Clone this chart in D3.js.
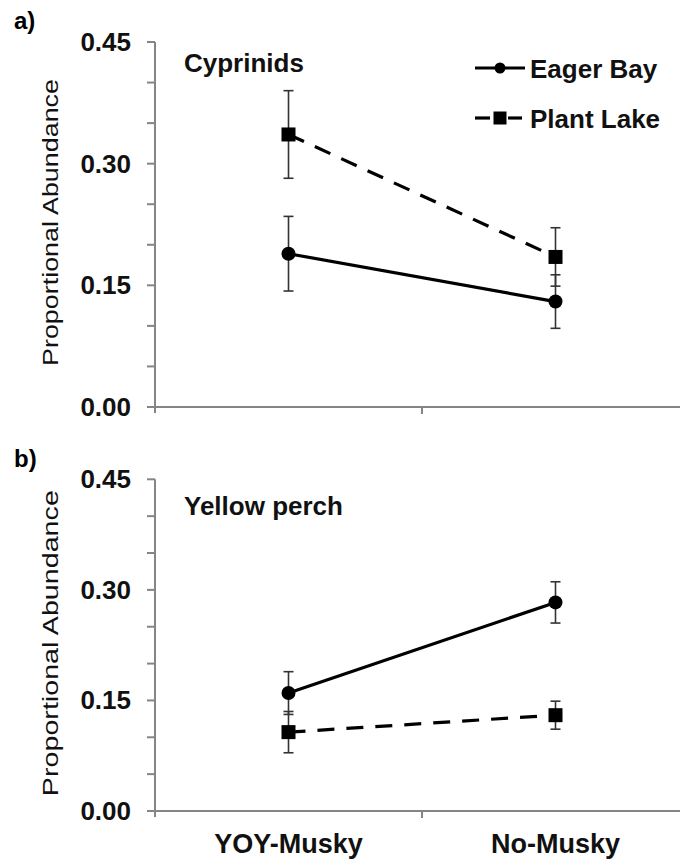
<!DOCTYPE html>
<html>
<head>
<meta charset="utf-8">
<script src="https://cdn.jsdelivr.net/npm/d3@7"></script>
<style>
  html, body { margin: 0; padding: 0; background: #fff; }
  svg { display: block; font-family: "Liberation Sans", Arial, sans-serif; }
</style>
</head>
<body>
<svg id="chart" width="680" height="862"></svg>
<script>
// Categories and series
const groups = ["YOY-Musky", "No-Musky"];
const seriesNames = ["Eager Bay", "Plant Lake"];

// Panel a) Cyprinids: means and error half-widths
const cyprEager = [0.189, 0.130];
const cyprEagerErr = [0.046, 0.033];
const cyprPlant = [0.336, 0.185];
const cyprPlantErr = [0.054, 0.036];

// Panel b) Yellow perch
const perchEager = [0.160, 0.283];
const perchEagerErr = [0.029, 0.028];
const perchPlant = [0.107, 0.130];
const perchPlantErr = [0.028, 0.019];

// Axis ticks
const yTickLabels = [0, 0.15, 0.30, 0.45];
const yMinorTicks = d3.range(0, 0.4501, 0.05);

const panels = [
  { tag: "a)", title: "Cyprinids", eager: cyprEager, eagerErr: cyprEagerErr,
    plant: cyprPlant, plantErr: cyprPlantErr,
    yRange: [407, 42], tagY: 29, titleY: 72, yTitleLen: 287, legend: true, xLabels: false },
  { tag: "b)", title: "Yellow perch", eager: perchEager, eagerErr: perchEagerErr,
    plant: perchPlant, plantErr: perchPlantErr,
    yRange: [811, 479.3], tagY: 467, titleY: 515, yTitleLen: 306, legend: false, xLabels: true }
];

const svg = d3.select("#chart");
const axisColor = "#858585";
const x = d3.scaleBand().domain(groups).range([155, 689]).padding(0);
const cx = d => x(d) + x.bandwidth() / 2;

const styles = {
  "Eager Bay": { dash: null, marker: "circle" },
  "Plant Lake": { dash: "17,12", marker: "square" }
};

panels.forEach(p => {
  const g = svg.append("g");
  const y = d3.scaleLinear().domain([0, 0.45]).range(p.yRange);

  // panel tag
  g.append("text").attr("x", 14).attr("y", p.tagY)
    .attr("font-size", 24).attr("font-weight", "bold").text(p.tag);

  // y axis: line + minor ticks
  g.append("line").attr("x1", 155).attr("x2", 155)
    .attr("y1", y(0.45)).attr("y2", y(0) + 6)
    .attr("stroke", axisColor).attr("stroke-width", 2);
  g.selectAll(".ytick").data(yMinorTicks).enter().append("line")
    .attr("x1", 147).attr("x2", 155)
    .attr("y1", d => y(d)).attr("y2", d => y(d))
    .attr("stroke", axisColor).attr("stroke-width", 2);
  g.selectAll(".ylab").data(yTickLabels).enter().append("text")
    .attr("x", 131).attr("y", d => y(d) + 9)
    .attr("text-anchor", "end").attr("font-size", 26).attr("font-weight", "bold")
    .attr("fill", "#111")
    .text(d => d3.format(".2f")(d));

  // y title
  g.append("text")
    .attr("transform", `translate(58,${(p.yRange[0] + p.yRange[1]) / 2 - 2}) rotate(-90)`)
    .attr("text-anchor", "middle").attr("font-size", 22)
    .attr("textLength", p.yTitleLen).attr("lengthAdjust", "spacingAndGlyphs")
    .attr("fill", "#111")
    .text("Proportional Abundance");

  // x axis: line + boundary ticks between categories
  g.append("line").attr("x1", 155).attr("x2", 689)
    .attr("y1", y(0)).attr("y2", y(0))
    .attr("stroke", axisColor).attr("stroke-width", 2);
  g.selectAll(".xtick").data(groups.slice(1)).enter().append("line")
    .attr("x1", d => x(d)).attr("x2", d => x(d))
    .attr("y1", y(0)).attr("y2", y(0) + 7)
    .attr("stroke", axisColor).attr("stroke-width", 2);

  if (p.xLabels) {
    g.selectAll(".xlab").data(groups).enter().append("text")
      .attr("x", d => cx(d)).attr("y", 853)
      .attr("text-anchor", "middle").attr("font-size", 27).attr("font-weight", "bold")
      .attr("fill", "#111")
      .text(d => d);
  }

  // panel title
  g.append("text").attr("x", 184).attr("y", p.titleY)
    .attr("font-size", 26).attr("font-weight", "bold").attr("fill", "#111")
    .text(p.title);

  const series = [
    { name: "Eager Bay", vals: p.eager, errs: p.eagerErr },
    { name: "Plant Lake", vals: p.plant, errs: p.plantErr }
  ];

  // error bars
  series.forEach(s => {
    const pts = groups.map((gr, i) => ({ gr, v: s.vals[i], e: s.errs[i] }));
    const eb = g.append("g");
    eb.selectAll("line.v").data(pts).enter().append("line")
      .attr("x1", d => cx(d.gr)).attr("x2", d => cx(d.gr))
      .attr("y1", d => y(d.v - d.e)).attr("y2", d => y(d.v + d.e))
      .attr("stroke", "#333").attr("stroke-width", 1.6);
    ["lo", "hi"].forEach(k => {
      eb.selectAll("line.c" + k).data(pts).enter().append("line")
        .attr("x1", d => cx(d.gr) - 5).attr("x2", d => cx(d.gr) + 5)
        .attr("y1", d => y(k === "lo" ? d.v - d.e : d.v + d.e))
        .attr("y2", d => y(k === "lo" ? d.v - d.e : d.v + d.e))
        .attr("stroke", "#333").attr("stroke-width", 1.6);
    });
  });

  // connecting lines
  const line = d3.line().x((d, i) => cx(groups[i])).y(d => y(d));
  series.forEach(s => {
    g.append("path").datum(s.vals).attr("d", line)
      .attr("fill", "none").attr("stroke", "#000").attr("stroke-width", 3.2)
      .attr("stroke-dasharray", styles[s.name].dash);
  });

  // markers
  series.forEach(s => {
    const pts = groups.map((gr, i) => ({ gr, v: s.vals[i] }));
    if (styles[s.name].marker === "circle") {
      g.selectAll(null).data(pts).enter().append("circle")
        .attr("cx", d => cx(d.gr)).attr("cy", d => y(d.v)).attr("r", 7)
        .attr("fill", "#000");
    } else {
      g.selectAll(null).data(pts).enter().append("rect")
        .attr("x", d => cx(d.gr) - 7).attr("y", d => y(d.v) - 7)
        .attr("width", 14).attr("height", 14).attr("fill", "#000");
    }
  });

  // legend
  if (p.legend) {
    const leg = g.append("g");
    const rows = [{ name: seriesNames[0], y: 68, ty: 78 }, { name: seriesNames[1], y: 118, ty: 128 }];
    rows.forEach(r => {
      if (styles[r.name].marker === "circle") {
        leg.append("line").attr("x1", 475).attr("x2", 525).attr("y1", r.y).attr("y2", r.y)
          .attr("stroke", "#000").attr("stroke-width", 3.2);
        leg.append("circle").attr("cx", 500).attr("cy", r.y).attr("r", 5.5).attr("fill", "#000");
      } else {
        leg.append("line").attr("x1", 475).attr("x2", 490).attr("y1", r.y).attr("y2", r.y)
          .attr("stroke", "#000").attr("stroke-width", 3.2);
        leg.append("line").attr("x1", 508).attr("x2", 522).attr("y1", r.y).attr("y2", r.y)
          .attr("stroke", "#000").attr("stroke-width", 3.2);
        leg.append("rect").attr("x", 493.5).attr("y", r.y - 6.5).attr("width", 13).attr("height", 13)
          .attr("fill", "#000");
      }
      leg.append("text").attr("x", 530).attr("y", r.ty)
        .attr("font-size", 26).attr("font-weight", "bold").attr("fill", "#111")
        .text(r.name);
    });
  }
});
</script>
</body>
</html>
